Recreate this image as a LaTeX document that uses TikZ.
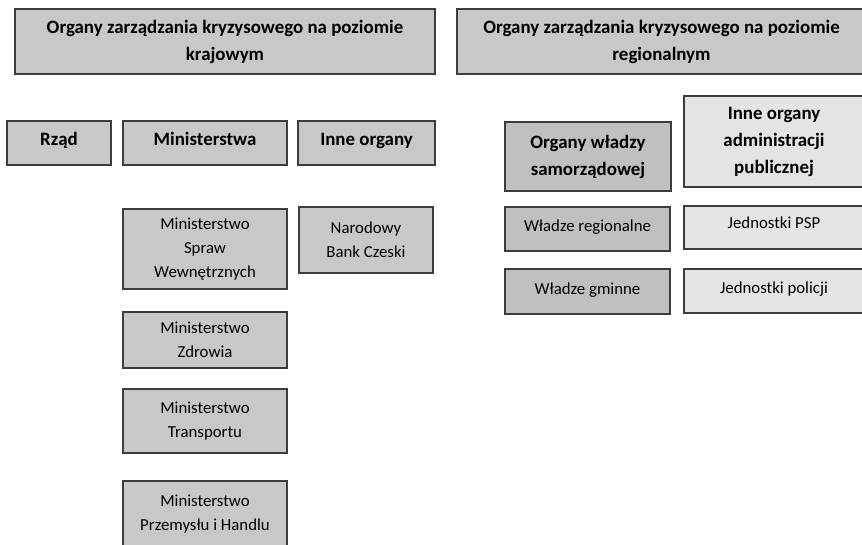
\documentclass[tikz,border=0pt]{standalone}
\usepackage{fontspec}
\setmainfont{Carlito}
\definecolor{midgray}{RGB}{200,200,200}
\definecolor{darkgray2}{RGB}{192,192,192}
\definecolor{lightgray2}{RGB}{228,228,228}
\definecolor{edge}{RGB}{60,60,60}
\tikzset{
  bx/.style={draw=edge, line width=1.5pt, inner sep=0pt, align=center, anchor=center},
  reg/.style={bx, font=\fontsize{16.8}{24}\selectfont},
  bold/.style={bx, font=\fontsize{18.9}{27}\selectfont\bfseries},
  one/.style={text height=0.76em, text depth=0.2em},
}
\begin{document}
\begin{tikzpicture}[x=1pt,y=-1pt]
\useasboundingbox (0,0) rectangle (862,544);
\clip (0,0) rectangle (862,544);
\fill[white] (0,0) rectangle (862,544);
% headers
\node[bold, fill=midgray, minimum width=420pt, minimum height=65pt] (t1) at (225,41.5) {Organy zarządzania kryzysowego na poziomie\\krajowym};
\node[bold, fill=midgray, minimum width=409pt, minimum height=65pt] (t2) at (661.5,41.5) {Organy zarządzania kryzysowego na poziomie\\regionalnym};
% national level
\node[bold, one, fill=midgray, minimum width=104pt, minimum height=44pt] (rzad) at (59,143) {Rząd};
\node[bold, one, fill=midgray, minimum width=164pt, minimum height=44pt] (min) at (205,143) {Ministerstwa};
\node[bold, one, fill=midgray, minimum width=137pt, minimum height=44pt] (inne) at (366.5,143) {Inne organy};
\node[reg, fill=midgray, minimum width=164pt, minimum height=80pt] (msw) at (205,249) {Ministerstwo\\Spraw\\Wewnętrznych};
\node[reg, fill=midgray, minimum width=134pt, minimum height=66pt] (nbc) at (366,240) {Narodowy\\Bank Czeski};
\node[reg, fill=midgray, minimum width=164pt, minimum height=56pt] (mz) at (205,340) {Ministerstwo\\Zdrowia};
\node[reg, fill=midgray, minimum width=164pt, minimum height=64pt] (mt) at (205,421) {Ministerstwo\\Transportu};
\node[reg, fill=midgray, minimum width=164pt, minimum height=66pt] (mph) at (205,514) {Ministerstwo\\Przemysłu i Handlu};
% regional level
\node[bold, fill=darkgray2, minimum width=166pt, minimum height=69pt] (ows) at (588,156.5) {Organy władzy\\samorządowej};
\node[bold, fill=lightgray2, minimum width=180pt, minimum height=91pt] (ioa) at (774,141.5) {Inne organy\\administracji\\publicznej};
\node[reg, one, fill=darkgray2, minimum width=165pt, minimum height=44pt] (wr) at (587.5,229) {Władze regionalne};
\node[reg, fill=lightgray2, minimum width=180pt, minimum height=43pt, text height=0.76em, text depth=0.65em] (psp) at (774,227.5) {Jednostki PSP};
\node[reg, one, fill=darkgray2, minimum width=165pt, minimum height=45pt] (wg) at (587.5,291.5) {Władze gminne};
\node[reg, one, fill=lightgray2, minimum width=180pt, minimum height=44pt] (pol) at (774,291) {Jednostki policji};
\end{tikzpicture}
\end{document}
